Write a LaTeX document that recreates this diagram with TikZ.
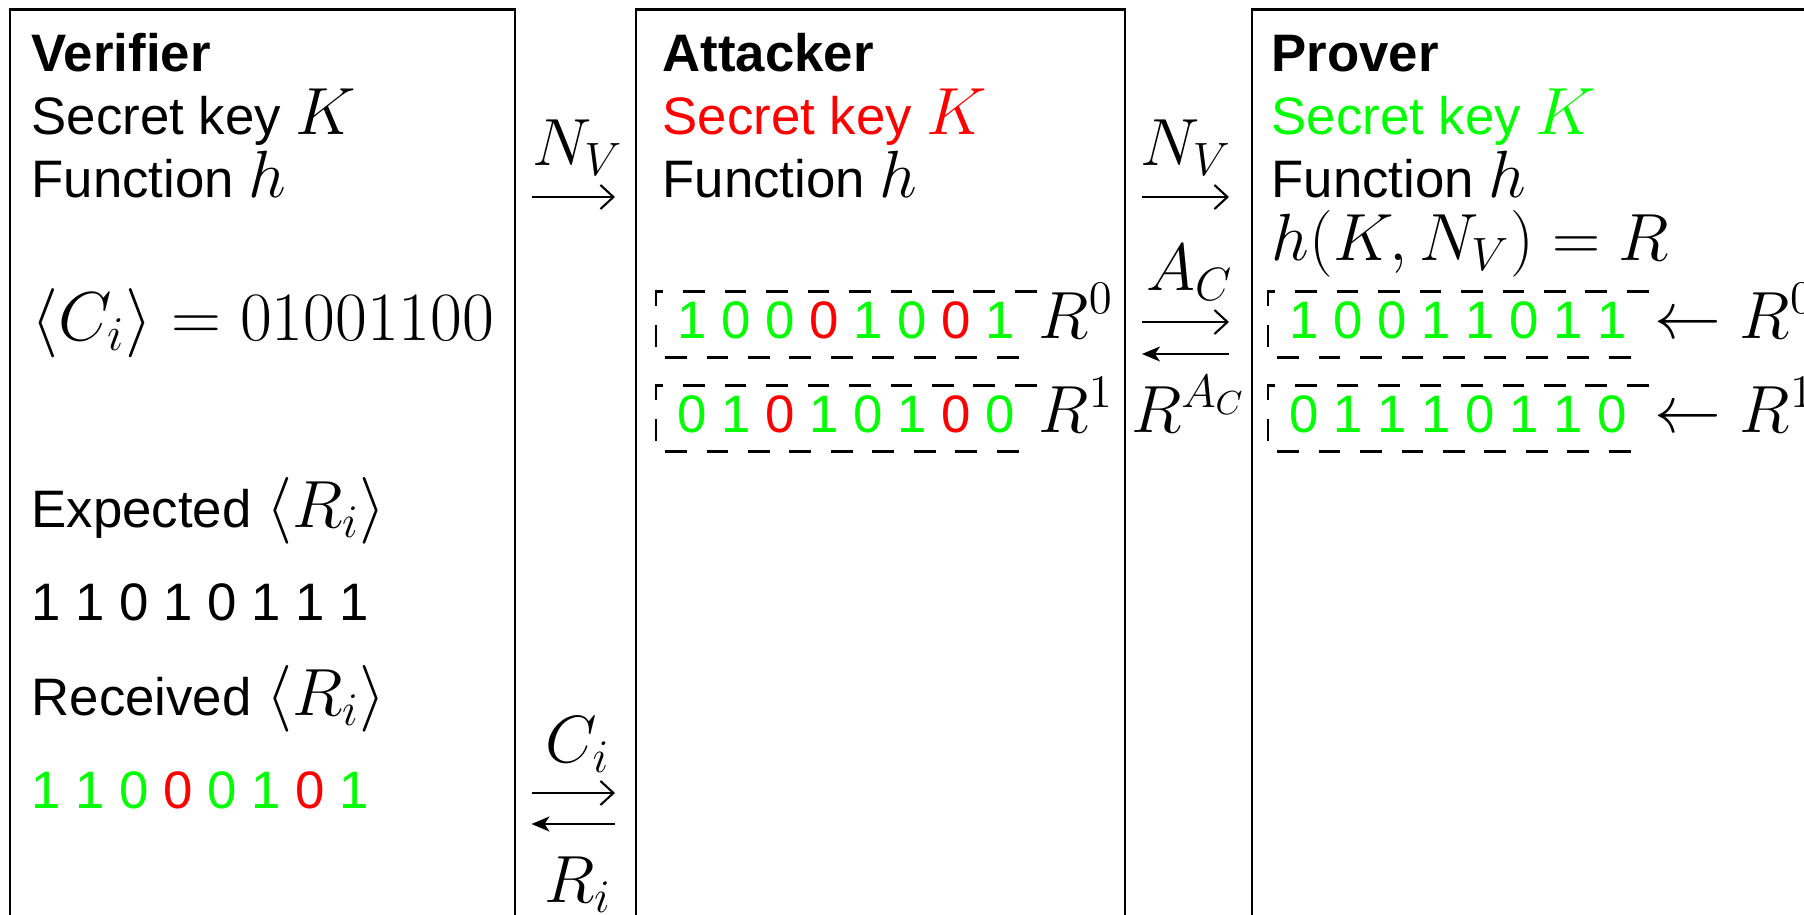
\RequirePackage{fix-cm}
\documentclass[tikz,border=0pt]{standalone}
\usepackage[no-math]{fontspec}
\setmainfont[Scale=0.79]{Liberation Sans}
\usetikzlibrary{arrows.meta,positioning}
\definecolor{bitGreen}{RGB}{0,255,0}
\definecolor{bitRed}{RGB}{255,0,0}
\newcommand{\okb}[1]{\textcolor{bitGreen}{#1}}
\newcommand{\errb}[1]{\textcolor{bitRed}{#1}}
\tikzset{
  party/.style={draw=black, line width=0.7pt},
  txt/.style={inner sep=0pt, anchor=base west, font=\fontsize{19}{22}\selectfont},
  bits/.style={txt, inner xsep=0.21cm, inner ysep=0.06cm, text height=0.40cm, text depth=0.13cm},
  dashrow/.style={line width=0.8pt, dash pattern=on 6.2pt off 5.6pt},
  rarr/.style={-{Straight Barb[length=1.3mm,width=2.4mm]}, line width=0.6pt},
  larr/.style={-{Stealth[length=1.8mm,width=1.5mm,inset=0.5mm]}, line width=0.6pt},
  lbl/.style={inner sep=0pt, anchor=base, font=\fontsize{19}{22}\selectfont}
}

\begin{document}
\begin{tikzpicture}[x=1cm,y=1cm]
  % page = 1804x914 px, 1px = 0.1mm; boxes run past the bottom and right edge
  \useasboundingbox (0,0) rectangle (18.04,9.14);
  \clip (0,0) rectangle (18.04,9.14);
  \draw[party] (0.10,-1) rectangle (5.15,9.047);
  \draw[party] (6.36,-1) rectangle (11.25,9.047);
  \draw[party] (12.52,-1) rectangle (19.50,9.047);

  % verifier
  \node[txt] (ver) at (0.31,8.43) {\textbf{Verifier}};
  \node[txt] (verkey) at (0.31,7.80) {Secret key $K$};
  \node[txt] (verfun) at (0.31,7.17) {Function $h$};
  \node[txt, font=\fontsize{19.7}{22}\selectfont] (verch) at (0.31,5.74) {$\langle C_i\rangle = 01001100$};
  \node[txt] (verexp) at (0.31,3.87) {Expected $\langle R_i\rangle$};
  \node[txt] (verexpb) at (0.31,2.94) {1 1 0 1 0 1 1 1};
  \node[txt] (verrec) at (0.31,1.99) {Received $\langle R_i\rangle$};
  \node[txt] (verrecb) at (0.31,1.06) {\okb{1} \okb{1} \okb{0} \errb{0} \okb{0} \okb{1} \errb{0} \okb{1}};

  % attacker
  \node[txt] (att) at (6.62,8.43) {\textbf{Attacker}};
  \node[txt, text=bitRed] (attkey) at (6.62,7.80) {Secret key $K$};
  \node[txt] (attfun) at (6.62,7.17) {Function $h$};
  \node[bits] (att0) at (6.56,5.76) {\okb{1} \okb{0} \okb{0} \errb{0} \okb{1} \okb{0} \errb{0} \okb{1}};
  \node[txt, base right=0.01cm of att0] (attr0) {$R^0$};
  \node[bits] (att1) at (6.56,4.82) {\okb{0} \okb{1} \errb{0} \okb{1} \okb{0} \okb{1} \errb{0} \okb{0}};
  \node[txt, base right=0.01cm of att1] (attr1) {$R^1$};

  % prover
  \node[txt] (prv) at (12.71,8.43) {\textbf{Prover}};
  \node[txt, text=bitGreen] (prvkey) at (12.71,7.80) {Secret key $K$};
  \node[txt] (prvfun) at (12.71,7.17) {Function $h$};
  \node[txt] (prvresp) at (12.71,6.54) {$h(K,N_V) = R$};
  \node[bits, text=bitGreen] (prv0) at (12.68,5.76) {1 0 0 1 1 0 1 1};
  \node[txt, base right=0.05cm of prv0] (prvr0) {$\leftarrow R^0$};
  \node[bits, text=bitGreen] (prv1) at (12.68,4.82) {0 1 1 1 0 1 1 0};
  \node[txt, base right=0.05cm of prv1] (prvr1) {$\leftarrow R^1$};

  \foreach \n in {att0,att1,prv0,prv1}
    \draw[dashrow] (\n.north east) -- (\n.north west) -- (\n.south west) -- (\n.south east);

  % messages verifier <-> attacker
  \coordinate (vaL1) at (5.315,7.17); \coordinate (vaR1) at (6.15,7.17);
  \coordinate (vaL2) at (5.315,1.21); \coordinate (vaR2) at (6.15,1.21);
  \coordinate (vaL3) at (5.315,0.90); \coordinate (vaR3) at (6.15,0.90);
  \node[lbl] (vanonce) at (5.775,7.49) {$N_V$};
  \node[lbl] (vach) at (5.78,1.52) {$C_i$};
  \node[lbl] (varesp) at (5.78,0.12) {$R_i$};
  \draw[rarr] (vaL1) -- (vaR1);
  \draw[rarr] (vaL2) -- (vaR2);
  \draw[larr] (vaR3) -- (vaL3);

  % messages attacker <-> prover
  \coordinate (apL1) at (11.42,7.17); \coordinate (apR1) at (12.29,7.17);
  \coordinate (apL2) at (11.42,5.92); \coordinate (apR2) at (12.29,5.92);
  \coordinate (apL3) at (11.42,5.60); \coordinate (apR3) at (12.29,5.60);
  \node[lbl] (apnonce) at (11.86,7.49) {$N_V$};
  \node[lbl] (apch) at (11.895,6.24) {$A_C$};
  \node[lbl] (apresp) at (11.885,4.82) {$R^{A_C}$};
  \draw[rarr] (apL1) -- (apR1);
  \draw[rarr] (apL2) -- (apR2);
  \draw[larr] (apR3) -- (apL3);
\end{tikzpicture}
\end{document}
